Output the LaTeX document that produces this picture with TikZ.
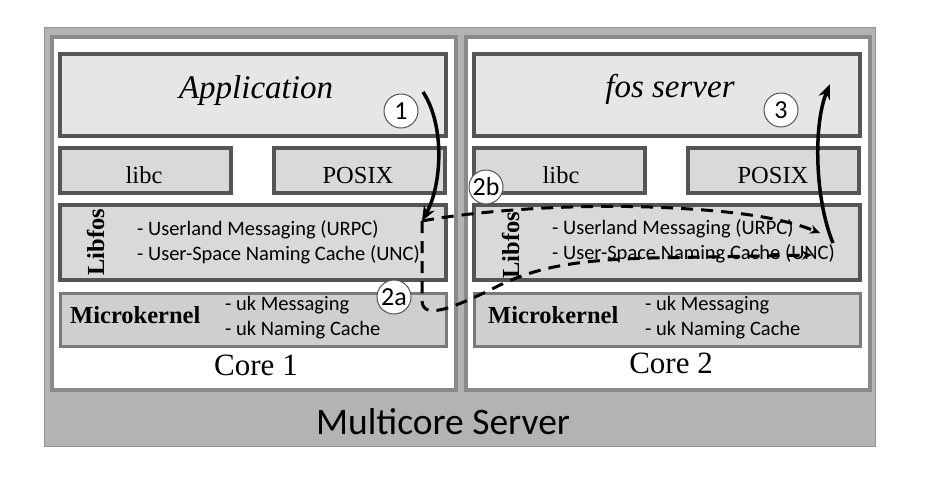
\documentclass[tikz,border=0pt]{standalone}
\usepackage{fontspec}
\setmainfont{Liberation Serif}
\newfontfamily\calibfont{Carlito}
\usepackage{tikz}
\usetikzlibrary{arrows.meta}

\definecolor{outerfill}{HTML}{B3B3B3}
\definecolor{outeredge}{HTML}{939393}
\definecolor{framegray}{HTML}{8A8A8A}
\definecolor{boxedge}{HTML}{555555}
\definecolor{boxfill}{HTML}{D9D9D9}
\definecolor{appfill}{HTML}{E6E6E6}
\definecolor{kernedge}{HTML}{7A7A7A}
\definecolor{kernfill}{HTML}{CFCFCF}

\begin{document}
\begin{tikzpicture}[x=1pt,y=-1pt,
    layerbox/.style={draw=boxedge, line width=3.5pt, fill=boxfill, inner sep=0pt, outer sep=0pt},
    appbox/.style={layerbox, fill=appfill},
    kernbox/.style={layerbox, draw=kernedge, fill=kernfill, line width=3pt},
    coreframe/.style={draw=framegray, line width=4.5pt, fill=white},
    apptext/.style={anchor=base, font=\itshape\fontsize{33}{38}\selectfont},
    libtext/.style={anchor=base, font=\fontsize{24.5}{28}\selectfont},
    boldtext/.style={font=\bfseries\fontsize{24.5}{28}\selectfont},
    itemtext/.style={anchor=base west, inner sep=0pt, font=\calibfont\fontsize{20.5}{24}\selectfont},
    coretext/.style={anchor=base, font=\fontsize{31}{36}\selectfont},
    stepmark/.style={circle, draw=boxedge, line width=1pt, fill=white, minimum size=34pt, inner sep=0pt, font=\calibfont\fontsize{26}{30}\selectfont},
    flow/.style={line width=3.5pt, -{Stealth[length=15pt,width=12pt]}},
    dashflow/.style={line width=3pt, dash pattern=on 12pt off 8pt, -{Stealth[length=10pt,width=9pt]}}
  ]
  \useasboundingbox (0,0) rectangle (926,483);

  % Multicore server
  \draw[draw=outeredge, fill=outerfill, line width=1pt] (44.5,27.5) rectangle (875.5,446.5);
  \node[anchor=base, font=\calibfont\fontsize{37.5}{44}\selectfont] (srvlabel) at (443,434) {Multicore Server};

  % Core frames
  \draw[coreframe] (52,37) rectangle (456,390);
  \draw[coreframe] (466,37) rectangle (870,390);

  % Core 1 - layers
  \node[appbox, minimum width=386pt, minimum height=82pt] (app1) at (253,95) {};
  \node[layerbox, minimum width=171pt, minimum height=45pt] (libc1) at (145.5,170.5) {};
  \node[layerbox, minimum width=171pt, minimum height=45pt] (posix1) at (359.5,170.5) {};
  \node[layerbox, minimum width=386pt, minimum height=75pt] (libfos1) at (253,242.5) {};
  \node[kernbox, minimum width=386pt, minimum height=53pt] (kern1) at (253,320) {};

  % Core 1 - labels
  \node[apptext] (apptxt1) at (256,98) {Application};
  \node[libtext] (libctxt1) at (144,183) {libc};
  \node[libtext] (posixtxt1) at (358,183) {POSIX};
  \node[boldtext, rotate=90, anchor=base] (libfostxt1) at (104,242) {Libfos};
  \node[itemtext] (urpc1) at (137,235) {- Userland Messaging (URPC)};
  \node[itemtext] (unc1) at (137,260) {- User-Space Naming Cache (UNC)};
  \node[boldtext, anchor=base west, inner sep=0pt] (kerntxt1) at (70,323) {Microkernel};
  \node[itemtext] (ukmsg1) at (225,310) {- uk Messaging};
  \node[itemtext] (ukname1) at (225,335) {- uk Naming Cache};
  \node[coretext] (core1) at (256,375) {Core 1};

  % Core 2 - layers
  \node[appbox, minimum width=386pt, minimum height=82pt] (app2) at (667,95) {};
  \node[layerbox, minimum width=171pt, minimum height=45pt] (libc2) at (559.5,170.5) {};
  \node[layerbox, minimum width=171pt, minimum height=45pt] (posix2) at (773.5,170.5) {};
  \node[layerbox, minimum width=386pt, minimum height=75pt] (libfos2) at (667,242.5) {};
  \node[kernbox, minimum width=386pt, minimum height=53pt] (kern2) at (667,320) {};

  % Core 2 - labels
  \node[apptext] (apptxt2) at (670,97) {fos server};
  \node[libtext] (libctxt2) at (561,183) {libc};
  \node[libtext] (posixtxt2) at (773,183) {POSIX};
  \node[boldtext, rotate=90, anchor=base] (libfostxt2) at (519,245) {Libfos};
  \node[itemtext] (urpc2) at (552,234) {- Userland Messaging (URPC)};
  \node[itemtext] (unc2) at (552,259) {- User-Space Naming Cache (UNC)};
  \node[boldtext, anchor=base west, inner sep=0pt] (kerntxt2) at (488,323) {Microkernel};
  \node[itemtext] (ukmsg2) at (645,310) {- uk Messaging};
  \node[itemtext] (ukname2) at (645,335) {- uk Naming Cache};
  \node[coretext] (core2) at (671,373) {Core 2};

  % Flow end points
  \coordinate (callstart) at (423,92);
  \coordinate (callend) at (422,221);
  \coordinate (urpcend) at (820,233);
  \coordinate (uncend) at (812,255);
  \coordinate (replystart) at (833,243);
  \coordinate (replyend) at (830,84);

  % Messaging paths
  \draw[dashflow] (callend) .. controls (470,212) and (560,204) .. (650,207)
    .. controls (730,210) and (780,217) .. (urpcend);
  \draw[dashflow] (callend) -- (422,300) .. controls (422,320) and (450,310) .. (500,285)
    .. controls (540,266) and (580,260) .. (650,258) -- (uncend);
  \draw[flow] (callstart) .. controls (445,125) and (442,185) .. (callend);
  \draw[flow] (replystart) .. controls (815,200) and (813,125) .. (replyend);

  % Step marks
  \node[stepmark] (step1) at (401,111) {1};
  \node[stepmark] (step2b) at (486,187) {2b};
  \node[stepmark] (step2a) at (394,297) {2a};
  \node[stepmark] (step3) at (781,110) {3};
\end{tikzpicture}
\end{document}
